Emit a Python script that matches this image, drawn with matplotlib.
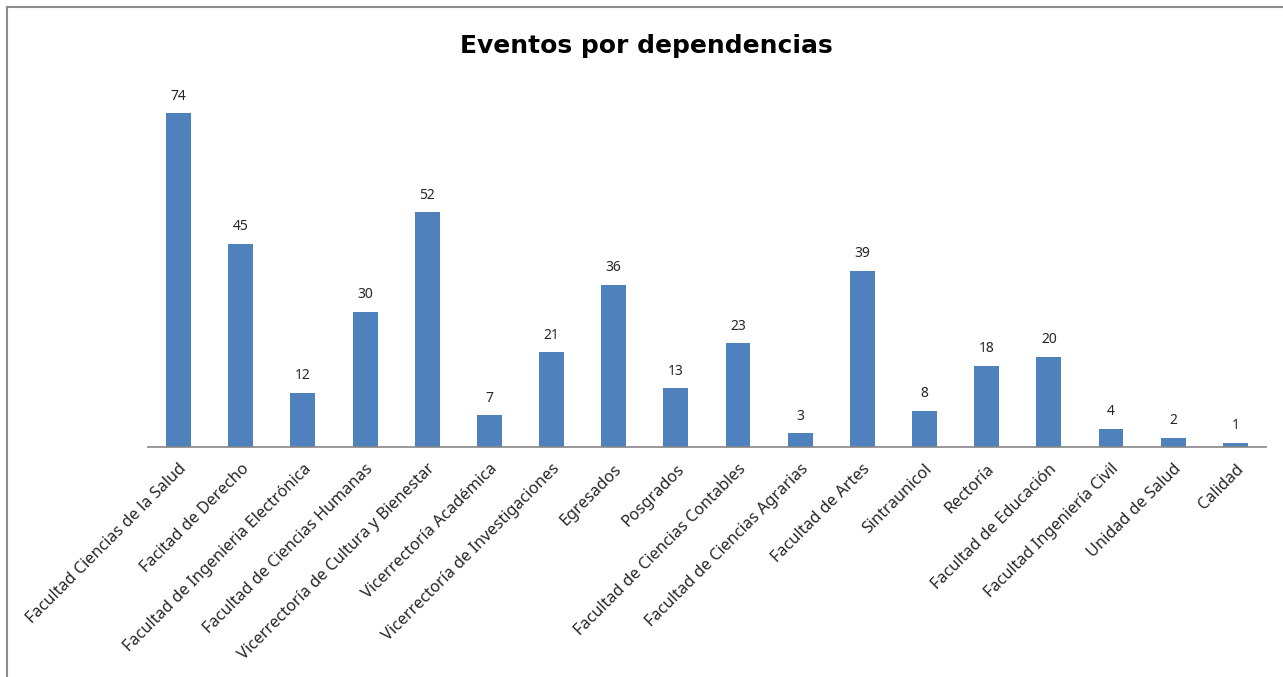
import matplotlib
matplotlib.use("Agg")
import matplotlib.pyplot as plt
from matplotlib.lines import Line2D
import numpy as np

# data
dependencias = ["Facultad Ciencias de la Salud", "Facitad de Derecho",
                "Facultad de Ingenieria Electrónica", "Facultad de Ciencias Humanas",
                "Vicerrectoría de Cultura y Bienestar", "Vicerrectoría Académica",
                "Vicerrectoría de Investigaciones", "Egresados", "Posgrados",
                "Facultad de Ciencias Contables", "Facultad de Ciencias Agrarias",
                "Facultad de Artes", "Sintraunicol", "Rectoría", "Facultad de Educación",
                "Facultad Ingeniería Civil", "Unidad de Salud", "Calidad"]
eventos = [74, 45, 12, 30, 52, 7, 21, 36, 13, 23, 3, 39, 8, 18, 20, 4, 2, 1]

plt.rcParams['font.family'] = ['Noto Sans', 'DejaVu Sans']

fig = plt.figure(figsize=(12.83, 6.77), dpi=100)
ax = fig.add_axes([0.115, 0.3397, 0.872, 0.533])

x = np.arange(len(eventos))
ax.bar(x, eventos, width=0.40, color="#4F81BD")
for xi, v in zip(x, eventos):
    ax.annotate(str(v), (xi, v), xytext=(0, 7), textcoords="offset points",
                ha="center", va="bottom", fontsize=10, color="#262626")

ax.set_xlim(-0.5, len(eventos) - 0.5)
ax.set_ylim(0, 80)
ax.set_xticks(x)
ax.set_xticklabels(dependencias, rotation=45, ha="right", rotation_mode="anchor",
                   fontsize=11.7, color="#262626")
ax.tick_params(axis="x", length=0, pad=10)
ax.set_yticks([])
for s in ["left", "right", "top"]:
    ax.spines[s].set_visible(False)
ax.spines["bottom"].set_color("#868686")
ax.spines["bottom"].set_linewidth(1.2)

fig.text(0.504, 0.932, "Eventos por dependencias", ha="center", va="center",
         fontsize=18, fontweight="bold", color="black", family="DejaVu Sans")

# outer chart frame (left and top edges visible)
fig.add_artist(Line2D([0.0055, 0.0055], [0, 0.99], color="#8c8c8c", lw=1.5,
                      transform=fig.transFigure))
fig.add_artist(Line2D([0.0055, 1.0], [0.99, 0.99], color="#8c8c8c", lw=1.5,
                      transform=fig.transFigure))

fig.savefig("out.png", dpi=100)
